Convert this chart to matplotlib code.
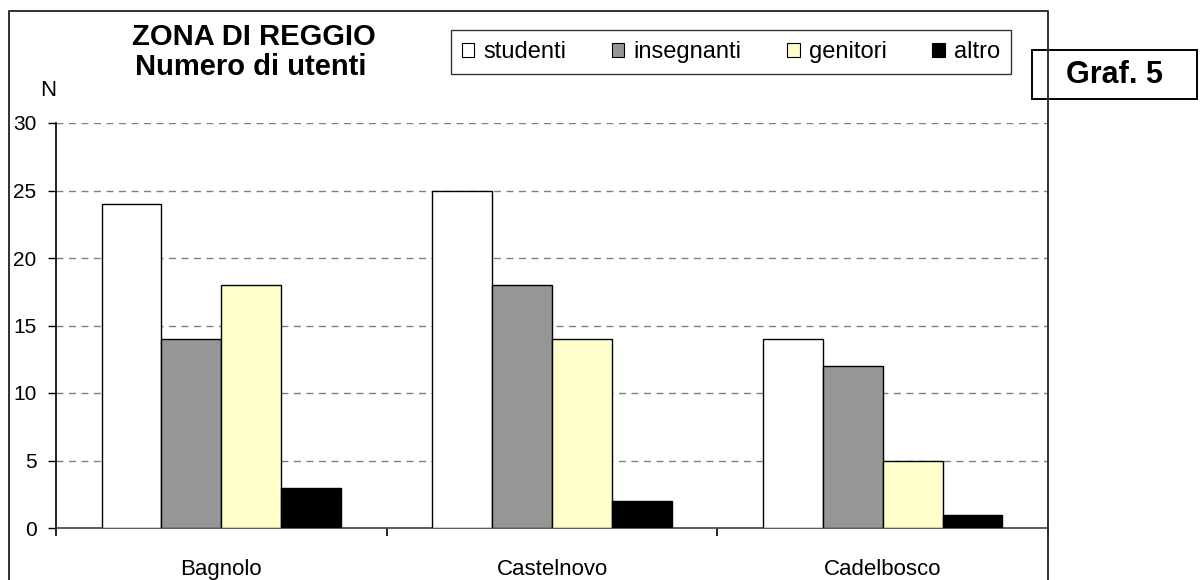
import matplotlib
matplotlib.use("Agg")
import matplotlib.pyplot as plt
from matplotlib.lines import Line2D
from matplotlib.patches import Patch, Rectangle
import numpy as np

plt.rcParams['font.family'] = ['Liberation Sans', 'DejaVu Sans']

# data
zones = ['Bagnolo', 'Castelnovo', 'Cadelbosco']
series = ['studenti', 'insegnanti', 'genitori', 'altro']
studenti = [24, 25, 14]
insegnanti = [14, 18, 12]
genitori = [18, 14, 5]
altro = [3, 2, 1]
colors = ['#FFFFFF', '#969696', '#FFFFCC', '#000000']
yticks = [0, 5, 10, 15, 20, 25, 30]

W, H = 1201, 580
fig = plt.figure(figsize=(W / 100, H / 100), dpi=100)

# plot area in pixels: x 56..1048, y 123..528
ax = fig.add_axes([56 / W, (H - 528) / H, (1048 - 56) / W, (528 - 123) / H])

x = np.arange(len(zones))
bw = 0.181
values = [studenti, insegnanti, genitori, altro]
for i, (vals, c) in enumerate(zip(values, colors)):
    ax.bar(x + (i - 1.5) * bw, vals, width=bw, color=c, edgecolor='black',
           linewidth=1.0, zorder=3)

ax.set_xlim(-0.5, len(zones) - 0.5)
ax.set_ylim(0, 30)
ax.set_yticks(yticks)
ax.set_yticklabels([str(v) for v in yticks], fontsize=15)
ax.set_xticks(x)
ax.set_xticklabels(zones, fontsize=16)
ax.set_xticks(np.arange(-0.5, len(zones)), minor=True)
ax.tick_params(axis='x', which='major', length=0, pad=22)
ax.tick_params(axis='x', which='minor', length=6, width=1.2, direction='out', color='black')
ax.tick_params(axis='y', length=6, width=1, direction='out', pad=8)

for v in yticks[1:]:
    ax.axhline(v, color='#808080', linestyle=(0, (5, 4)), linewidth=1.0, zorder=1)

ax.spines['top'].set_visible(False)
ax.spines['right'].set_visible(False)
ax.spines['left'].set_linewidth(1.2)
ax.spines['bottom'].set_color('#404040')
ax.spines['bottom'].set_linewidth(1.2)

# outer frame (left, top, right)
def px(xp, yp):
    return xp / W, 1 - yp / H

fr = [px(9, 600), px(9, 11), px(1048, 11), px(1048, 600)]
fig.add_artist(Line2D([p[0] for p in fr], [p[1] for p in fr], color='#303030',
                      linewidth=1.4, transform=fig.transFigure))

# titles
fig.text(*px(254, 37), 'ZONA DI REGGIO', ha='center', va='center',
         fontsize=21, fontweight='bold')
fig.text(*px(251, 67), 'Numero di utenti', ha='center', va='center',
         fontsize=21, fontweight='bold')
fig.text(*px(48, 91), 'N', ha='center', va='center', fontsize=16)

# legend
handles = [Patch(facecolor=c, edgecolor='black', linewidth=0.8) for c in colors]
leg = fig.legend(handles, series, loc='center', bbox_to_anchor=px(731, 52),
                 ncol=4, fontsize=17, frameon=True, fancybox=False,
                 handlelength=0.52, handleheight=0.52, handletextpad=0.4,
                 columnspacing=1.93, borderpad=0.45, borderaxespad=0)
leg.get_frame().set_edgecolor('black')
leg.get_frame().set_linewidth(1.0)

# "Graf. 5" box
x0, y0 = px(1032, 99)
x1, y1 = px(1197, 50)
fig.add_artist(Rectangle((x0, y0), x1 - x0, y1 - y0, transform=fig.transFigure,
                         facecolor='white', edgecolor='black', linewidth=1.4))
fig.text(*px(1114, 75), 'Graf. 5', ha='center', va='center',
         fontsize=22, fontweight='bold')

fig.savefig('out.png', dpi=100)
